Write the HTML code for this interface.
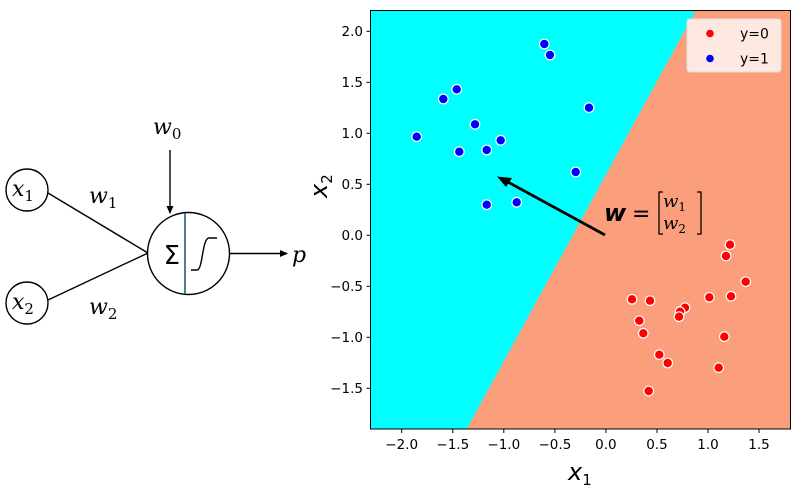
<!DOCTYPE html>
<html><head><meta charset="utf-8"><style>
html,body{margin:0;padding:0;background:#fff;}
svg{display:block;}
text{font-family:"DejaVu Sans","Liberation Sans",sans-serif;}
.m{font-family:"DejaVu Serif","Liberation Serif",serif;font-style:italic;}
</style></head><body>
<svg width="800" height="496" viewBox="0 0 800 496" xmlns="http://www.w3.org/2000/svg">
<defs><marker id="ah" markerWidth="8" markerHeight="8" refX="7" refY="4" orient="auto" markerUnits="userSpaceOnUse"><path d="M0,0.5 L8,4 L0,7.5 Z" fill="#000"/></marker></defs>
<g stroke="#000" stroke-width="1.4" fill="none">
<circle cx="27" cy="190" r="21"/>
<circle cx="27" cy="303" r="21"/>
<circle cx="188.5" cy="253.5" r="41"/>
<line x1="48" y1="193" x2="148" y2="253"/>
<line x1="48" y1="300" x2="148" y2="253"/>
<line x1="170" y1="150" x2="170" y2="213" marker-end="url(#ah)"/>
<line x1="230" y1="253.5" x2="287" y2="253.5" marker-end="url(#ah)"/>
<path d="M191,270 L197,270 C203,270 202,238 209,238 L217,238"/>
</g>
<line x1="185" y1="213" x2="185" y2="294" stroke="#1f5f80" stroke-width="1.6"/>
<text x="180" y="264" font-size="26" text-anchor="end" font-family="DejaVu Serif,serif">Σ</text>
<text class="m" x="12" y="196" font-size="22">x<tspan font-size="15" dy="5" font-style="normal">1</tspan></text>
<text class="m" x="12" y="309" font-size="22">x<tspan font-size="15" dy="5" font-style="normal">2</tspan></text>
<text class="m" x="153" y="134" font-size="22">w<tspan font-size="15" dy="5" font-style="normal">0</tspan></text>
<text class="m" x="89" y="203" font-size="22">w<tspan font-size="15" dy="5" font-style="normal">1</tspan></text>
<text class="m" x="89" y="314" font-size="22">w<tspan font-size="15" dy="5" font-style="normal">2</tspan></text>
<text class="m" x="292" y="262" font-size="22">p</text>
<rect x="370.5" y="10.5" width="420" height="418.5" fill="#fa9e7c"/>
<polygon points="370.5,10.5 695.7,10.5 466.7,429 370.5,429" fill="#00ffff"/>
<rect x="370.5" y="10.5" width="420" height="418.5" fill="none" stroke="#000" stroke-width="1"/>
<g stroke="#000" stroke-width="1">
<line x1="401.7" y1="429" x2="401.7" y2="433"/><line x1="452.8" y1="429" x2="452.8" y2="433"/><line x1="503.8" y1="429" x2="503.8" y2="433"/><line x1="554.9" y1="429" x2="554.9" y2="433"/><line x1="605.9" y1="429" x2="605.9" y2="433"/><line x1="657" y1="429" x2="657" y2="433"/><line x1="708" y1="429" x2="708" y2="433"/><line x1="759" y1="429" x2="759" y2="433"/>
<line x1="366.5" y1="31.3" x2="370.5" y2="31.3"/><line x1="366.5" y1="82.3" x2="370.5" y2="82.3"/><line x1="366.5" y1="133.3" x2="370.5" y2="133.3"/><line x1="366.5" y1="184.3" x2="370.5" y2="184.3"/><line x1="366.5" y1="235.3" x2="370.5" y2="235.3"/><line x1="366.5" y1="286.3" x2="370.5" y2="286.3"/><line x1="366.5" y1="337.3" x2="370.5" y2="337.3"/><line x1="366.5" y1="388.3" x2="370.5" y2="388.3"/>
</g>
<g font-size="13.5" fill="#000" text-anchor="middle">
<text x="401.7" y="449">−2.0</text><text x="452.8" y="449">−1.5</text><text x="503.8" y="449">−1.0</text><text x="554.9" y="449">−0.5</text><text x="605.9" y="449">0.0</text><text x="657" y="449">0.5</text><text x="708" y="449">1.0</text><text x="759" y="449">1.5</text>
</g>
<g font-size="13.5" fill="#000" text-anchor="end">
<text x="363" y="36">2.0</text><text x="363" y="87">1.5</text><text x="363" y="138">1.0</text><text x="363" y="189">0.5</text><text x="363" y="240">0.0</text><text x="363" y="291">−0.5</text><text x="363" y="342">−1.0</text><text x="363" y="393">−1.5</text>
</g>
<text x="568" y="480" font-size="24" font-style="italic">x<tspan font-size="15" dy="5" font-style="normal">1</tspan></text>
<text transform="translate(327,198) rotate(-90)" font-size="24" font-style="italic">x<tspan font-size="15" dy="5" font-style="normal">2</tspan></text>
<line x1="605" y1="235" x2="506" y2="181" stroke="#000" stroke-width="2.8"/>
<path d="M497,176.5 L512,178 L506,187 Z" fill="#000"/>
<text x="604" y="221" font-size="24" font-weight="bold" font-family="DejaVu Serif,serif" font-style="italic">w</text>
<text x="632" y="221" font-size="22" font-family="DejaVu Serif,serif">=</text>
<path d="M663,192 L659,192 L659,234 L663,234 M697,192 L701,192 L701,234 L697,234" stroke="#000" stroke-width="1.3" fill="none"/>
<text class="m" x="663" y="207" font-size="18" font-family="Liberation Serif,serif">w<tspan font-size="12" dy="4" font-style="normal">1</tspan></text>
<text class="m" x="663" y="229" font-size="18">w<tspan font-size="12" dy="4" font-style="normal">2</tspan></text>
<g fill="#0000ff" stroke="#fff" stroke-width="1.2">
<circle cx="544.3" cy="44" r="4.8"/><circle cx="550" cy="55" r="4.8"/><circle cx="456.7" cy="89.3" r="4.8"/><circle cx="443.3" cy="99" r="4.8"/><circle cx="589" cy="107.7" r="4.8"/><circle cx="475" cy="124.3" r="4.8"/><circle cx="416.7" cy="136.7" r="4.8"/><circle cx="500.7" cy="140.3" r="4.8"/><circle cx="459.3" cy="151.7" r="4.8"/><circle cx="486.7" cy="150" r="4.8"/><circle cx="575.7" cy="172" r="4.8"/><circle cx="486.7" cy="204.7" r="4.8"/><circle cx="516.7" cy="202.3" r="4.8"/>
</g>
<g fill="#ff0000" stroke="#fff" stroke-width="1.2">
<circle cx="730" cy="244.7" r="4.8"/><circle cx="726" cy="256" r="4.8"/><circle cx="745.7" cy="281.7" r="4.8"/><circle cx="632" cy="299.3" r="4.8"/><circle cx="650" cy="300.7" r="4.8"/><circle cx="709.3" cy="297.3" r="4.8"/><circle cx="731" cy="296.3" r="4.8"/><circle cx="685" cy="307.7" r="4.8"/><circle cx="680" cy="311.7" r="4.8"/><circle cx="679" cy="316.7" r="4.8"/><circle cx="639.3" cy="320.7" r="4.8"/><circle cx="643.3" cy="333.3" r="4.8"/><circle cx="724.3" cy="336.7" r="4.8"/><circle cx="659.3" cy="354.7" r="4.8"/><circle cx="667.7" cy="363" r="4.8"/><circle cx="718.7" cy="367.7" r="4.8"/><circle cx="648.7" cy="391" r="4.8"/>
</g>
<rect x="687" y="19" width="94" height="53" rx="3" fill="#fde9e1" stroke="#ddd" stroke-width="1"/>
<circle cx="710" cy="33.5" r="3.8" fill="#ff0000"/>
<circle cx="710" cy="58.5" r="3.8" fill="#0000ff"/>
<text x="740" y="38.5" font-size="14">y=0</text>
<text x="740" y="63.5" font-size="14">y=1</text>
</svg>
</body></html>
